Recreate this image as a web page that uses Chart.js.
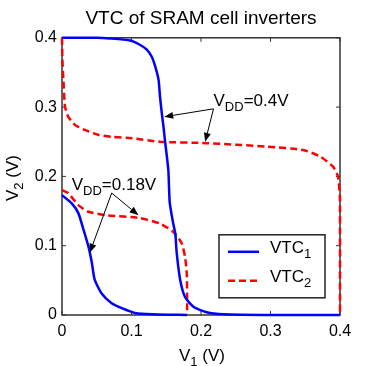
<!DOCTYPE html>
<html>
<head>
<meta charset="utf-8">
<script src="https://cdn.jsdelivr.net/npm/chart.js@4"></script>
<style>
  html, body { margin: 0; padding: 0; background: #fff; }
  #wrap { width: 375px; height: 366px; }
</style>
</head>
<body>
<div id="wrap"><canvas id="vtcChart"></canvas></div>
<script>
// VDD = 0.4 V
var vtc1_hi_x = [0, 0.05, 0.069, 0.098, 0.112, 0.122, 0.129, 0.134, 0.139, 0.141, 0.1435, 0.146, 0.148, 0.153, 0.155, 0.16, 0.163, 0.165, 0.17, 0.177, 0.189, 0.208, 0.232, 0.3, 0.4];
var vtc1_hi_y = [0.4, 0.4, 0.399, 0.396, 0.39, 0.383, 0.373, 0.359, 0.339, 0.315, 0.292, 0.272, 0.253, 0.209, 0.162, 0.132, 0.118, 0.09, 0.051, 0.026, 0.012, 0.004, 0.001, 0, 0];
var vtc2_hi_x = [0, 0.0005, 0.002, 0.0043, 0.009, 0.019, 0.033, 0.052, 0.072, 0.101, 0.141, 0.208, 0.295, 0.347, 0.371, 0.39, 0.397, 0.4, 0.4];
var vtc2_hi_y = [0.4, 0.37, 0.339, 0.301, 0.286, 0.274, 0.267, 0.26, 0.257, 0.255, 0.25, 0.248, 0.243, 0.238, 0.229, 0.214, 0.2, 0.166, 0];
// VDD = 0.18 V
var vtc1_lo_x = [0, 0.014, 0.0235, 0.031, 0.038, 0.043, 0.047, 0.057, 0.0715, 0.086, 0.105, 0.13, 0.18];
var vtc1_lo_y = [0.173, 0.161, 0.147, 0.123, 0.099, 0.075, 0.051, 0.031, 0.017, 0.01, 0.003, 0.001, 0];
var vtc2_lo_x = [0, 0.009, 0.023, 0.038, 0.064, 0.112, 0.141, 0.16, 0.172, 0.177, 0.1795, 0.18, 0.18];
var vtc2_lo_y = [0.18, 0.176, 0.159, 0.149, 0.144, 0.14, 0.132, 0.12, 0.104, 0.084, 0.06, 0.03, 0];

var series_names = ['VTC', 'VTC'];
var series_subs = ['1', '2'];
var tick_values = [0, 0.1, 0.2, 0.3, 0.4];

// annotations: label anchor and arrow targets in data units
var notes = [
    {pre: 'V', sub: 'DD', post: '=0.4V', at: [0.218, 0.302], from: [0.218, 0.2975], to: [[0.147, 0.286], [0.206, 0.25]]},
    {pre: 'V', sub: 'DD', post: '=0.18V', at: [0.014, 0.181], from: [0.0715, 0.176], to: [[0.04, 0.09], [0.11, 0.144]]}
];

var FONT = "'Liberation Sans', Arial, sans-serif";
var BLUE = '#0000ff';
var RED = '#ff0000';

function pts(xs, ys) {
    var out = [];
    for (var i = 0; i < xs.length; i++) out.push({x: xs[i], y: ys[i]});
    return out;
}

function line_ds(data, color, dashed) {
    return {
        data: data,
        borderColor: color,
        borderWidth: 2.5,
        borderDash: dashed ? [7, 4] : [],
        pointRadius: 0,
        tension: 0.2,
        fill: false,
        clip: false
    };
}

// draws "V" + subscript + rest, returns width
function sub_text(ctx, x, y, pre, sub, post, size, measureOnly) {
    var big = size + 'px ' + FONT;
    var small = Math.round(size * 0.78) + 'px ' + FONT;
    ctx.font = big;
    var w1 = ctx.measureText(pre).width;
    ctx.font = small;
    var w2 = ctx.measureText(sub).width;
    ctx.font = big;
    var w3 = ctx.measureText(post).width;
    if (!measureOnly) {
        ctx.font = big;
        ctx.fillText(pre, x, y);
        ctx.font = small;
        ctx.fillText(sub, x + w1, y + size * 0.32);
        ctx.font = big;
        ctx.fillText(post, x + w1 + w2, y);
    }
    return w1 + w2 + w3;
}

function arrow(ctx, x0, y0, x1, y1) {
    var a = Math.atan2(y1 - y0, x1 - x0);
    var L = 9, W = 3.5;
    ctx.beginPath();
    ctx.moveTo(x0, y0);
    ctx.lineTo(x1 - L * Math.cos(a), y1 - L * Math.sin(a));
    ctx.stroke();
    ctx.beginPath();
    ctx.moveTo(x1, y1);
    ctx.lineTo(x1 - L * Math.cos(a) + W * Math.sin(a), y1 - L * Math.sin(a) - W * Math.cos(a));
    ctx.lineTo(x1 - L * Math.cos(a) - W * Math.sin(a), y1 - L * Math.sin(a) + W * Math.cos(a));
    ctx.closePath();
    ctx.fill();
}

var framePlugin = {
    id: 'frame',
    beforeDatasetsDraw: function(chart) {
        var ctx = chart.ctx, a = chart.chartArea;
        var xs = chart.scales.x, ys = chart.scales.y;
        ctx.save();
        ctx.strokeStyle = '#333';
        ctx.lineWidth = 1.5;
        ctx.strokeRect(a.left, a.top, a.right - a.left, a.bottom - a.top);
        ctx.lineWidth = 1;
        ctx.beginPath();
        tick_values.forEach(function(v) {
            var px = xs.getPixelForValue(v);
            ctx.moveTo(px, a.bottom); ctx.lineTo(px, a.bottom - 4);
            ctx.moveTo(px, a.top); ctx.lineTo(px, a.top + 4);
            var py = ys.getPixelForValue(v);
            ctx.moveTo(a.left, py); ctx.lineTo(a.left + 4, py);
            ctx.moveTo(a.right, py); ctx.lineTo(a.right - 4, py);
        });
        ctx.stroke();
        ctx.restore();
    },
    afterDatasetsDraw: function(chart) {
        var ctx = chart.ctx, a = chart.chartArea;
        var xs = chart.scales.x, ys = chart.scales.y;
        ctx.save();
        ctx.fillStyle = '#000';
        ctx.strokeStyle = '#000';
        ctx.lineWidth = 1;
        ctx.textBaseline = 'alphabetic';

        // annotations with arrows
        notes.forEach(function(n) {
            var fx = xs.getPixelForValue(n.from[0]), fy = ys.getPixelForValue(n.from[1]);
            n.to.forEach(function(t) {
                arrow(ctx, fx, fy, xs.getPixelForValue(t[0]), ys.getPixelForValue(t[1]));
            });
            ctx.fillStyle = '#000';
            sub_text(ctx, xs.getPixelForValue(n.at[0]), ys.getPixelForValue(n.at[1]), n.pre, n.sub, n.post, 17);
        });

        // legend box
        var lx = a.left + 157, ly = a.top + 197, lw = 106, lh = 63;
        ctx.fillStyle = '#fff';
        ctx.fillRect(lx, ly, lw, lh);
        ctx.strokeStyle = '#222';
        ctx.lineWidth = 1.5;
        ctx.strokeRect(lx, ly, lw, lh);
        var colors = [BLUE, RED];
        for (var i = 0; i < 2; i++) {
            var yy = ly + 17 + i * 29;
            ctx.strokeStyle = colors[i];
            ctx.lineWidth = 2.5;
            ctx.setLineDash(i == 1 ? [7, 4] : []);
            ctx.beginPath();
            ctx.moveTo(lx + 9, yy);
            ctx.lineTo(lx + 40, yy);
            ctx.stroke();
            ctx.setLineDash([]);
            ctx.fillStyle = '#000';
            sub_text(ctx, lx + 51, yy + 1, series_names[i], series_subs[i], '', 17);
        }

        // axis titles
        ctx.fillStyle = '#000';
        var w = sub_text(ctx, 0, 0, 'V', '1', ' (V)', 17, true);
        sub_text(ctx, 202 - w / 2, 361, 'V', '1', ' (V)', 17);
        ctx.translate(18, 178);
        ctx.rotate(-Math.PI / 2);
        w = sub_text(ctx, 0, 0, 'V', '2', ' (V)', 17, true);
        sub_text(ctx, -w / 2, 0, 'V', '2', ' (V)', 17);
        ctx.restore();
    }
};

var chart_config = {
    type: 'line',
    data: {
        datasets: [
            line_ds(pts(vtc1_hi_x, vtc1_hi_y), BLUE, false),
            line_ds(pts(vtc2_hi_x, vtc2_hi_y), RED, true),
            line_ds(pts(vtc1_lo_x, vtc1_lo_y), BLUE, false),
            line_ds(pts(vtc2_lo_x, vtc2_lo_y), RED, true)
        ]
    },
    options: {
        responsive: true,
        maintainAspectRatio: false,
        animation: false,
        layout: {padding: {left: 0, right: 35, top: 0, bottom: 0}},
        plugins: {
            legend: {display: false},
            tooltip: {enabled: false},
            title: {
                display: true,
                fullSize: false,
                text: 'VTC of SRAM cell inverters',
                color: '#000',
                font: {family: FONT, size: 19, weight: 'normal'},
                padding: {top: 7, bottom: 8}
            }
        },
        scales: {
            x: {
                type: 'linear',
                min: 0,
                max: 0.4,
                grid: {display: false, drawTicks: false},
                border: {display: false},
                ticks: {
                    stepSize: 0.1,
                    padding: 7,
                    color: '#000',
                    font: {family: FONT, size: 16},
                    callback: function(v) { return String(+v.toFixed(1)); }
                },
                afterFit: function(scale) { scale.height = 51; }
            },
            y: {
                type: 'linear',
                min: 0,
                max: 0.4,
                grid: {display: false, drawTicks: false},
                border: {display: false},
                ticks: {
                    stepSize: 0.1,
                    padding: 5,
                    color: '#000',
                    font: {family: FONT, size: 16},
                    callback: function(v) { return String(+v.toFixed(1)); }
                },
                afterFit: function(scale) { scale.width = 62; }
            }
        }
    },
    plugins: [framePlugin]
};

var myChart = new Chart(document.getElementById('vtcChart'), chart_config);
</script>
</body>
</html>
